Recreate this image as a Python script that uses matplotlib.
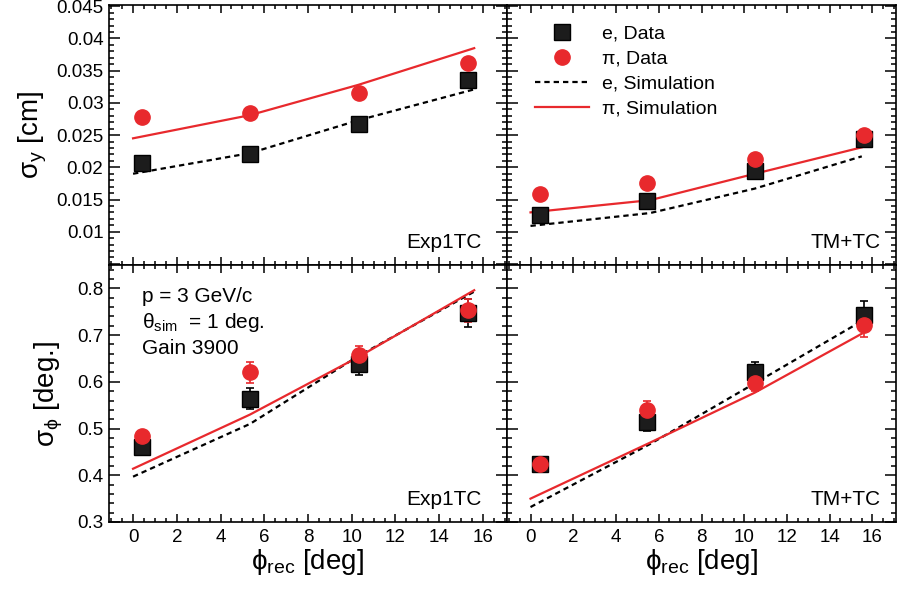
import numpy as np
import matplotlib.pyplot as plt
from matplotlib.ticker import MultipleLocator
from matplotlib.lines import Line2D

plt.rcParams['font.family'] = ['Liberation Sans', 'DejaVu Sans']
plt.rcParams['mathtext.default'] = 'regular'

RED = '#e8292d'
DARK = '#1c1c1c'

# data points (phi_rec in deg)
x_left = [0.4, 5.35, 10.33, 15.3]
x_right = [0.43, 5.46, 10.5, 15.6]

# sigma_y [cm]
sy_e_exp = [0.0207, 0.0221, 0.0268, 0.0336]
sy_pi_exp = [0.0278, 0.0284, 0.0316, 0.0362]
sy_e_tm = [0.0126, 0.0147, 0.0195, 0.0244]
sy_pi_tm = [0.0159, 0.0175, 0.0213, 0.0250]

# sigma_phi [deg]
sp_e_exp = [0.460, 0.564, 0.639, 0.748]
sp_e_exp_err = [0.010, 0.022, 0.024, 0.030]
sp_pi_exp = [0.483, 0.620, 0.658, 0.753]
sp_pi_exp_err = [0.008, 0.023, 0.019, 0.024]
sp_e_tm = [0.4245, 0.515, 0.622, 0.744]
sp_e_tm_err = [0.008, 0.020, 0.021, 0.030]
sp_pi_tm = [0.424, 0.540, 0.597, 0.7215]
sp_pi_tm_err = [0.008, 0.018, 0.017, 0.025]

# simulation curves
xs_left = [0.0, 5.35, 10.3, 15.6]
xs_right = [0.0, 5.6, 10.5, 15.5]
sim_sy_e_exp = [0.0190, 0.0222, 0.0273, 0.0321]
sim_sy_pi_exp = [0.0245, 0.0281, 0.0328, 0.0385]
sim_sy_e_tm = [0.0109, 0.0129, 0.0167, 0.0217]
sim_sy_pi_tm = [0.0130, 0.0149, 0.0190, 0.0231]
sim_sp_e_exp = [0.397, 0.510, 0.655, 0.793]
sim_sp_pi_exp = [0.414, 0.530, 0.653, 0.796]
sim_sp_e_tm = [0.332, 0.467, 0.597, 0.730]
sim_sp_pi_tm = [0.350, 0.470, 0.577, 0.703]

fig = plt.figure(figsize=(8.98, 5.90), dpi=100)
L, M, R = 109 / 898, 507 / 898, 896 / 898
T, H, B = 1 - 5 / 590, 1 - 265 / 590, 1 - 522 / 590
ax_tl = fig.add_axes([L, H, M - L, T - H])
ax_tr = fig.add_axes([M, H, R - M, T - H])
ax_bl = fig.add_axes([L, B, M - L, H - B])
ax_br = fig.add_axes([M, B, R - M, H - B])


def style(ax, top):
    ax.set_xlim(-1.1, 17.1)
    ax.xaxis.set_major_locator(MultipleLocator(2))
    ax.xaxis.set_minor_locator(MultipleLocator(0.5))
    if top:
        ax.set_ylim(0.00483, 0.0452)
        ax.yaxis.set_major_locator(MultipleLocator(0.005))
        ax.yaxis.set_minor_locator(MultipleLocator(0.001))
    else:
        ax.set_ylim(0.3, 0.85)
        ax.yaxis.set_major_locator(MultipleLocator(0.1))
        ax.yaxis.set_minor_locator(MultipleLocator(0.02))
    ax.tick_params(axis='both', which='both', direction='in', top=True, right=True,
                   labelsize=13.5, width=1.1, colors='black')
    ax.tick_params(axis='y', which='major', length=8, pad=4)
    ax.tick_params(axis='y', which='minor', length=3.6)
    ax.tick_params(axis='x', which='major', length=6, pad=5)
    ax.tick_params(axis='x', which='minor', length=2.8)
    for s in ax.spines.values():
        s.set_linewidth(1.2)


def draw(ax, x, e, pi, xs, sim_e, sim_pi, e_err=None, pi_err=None):
    ax.plot(xs, sim_e, ls=(0, (2.4, 1.8)), color='black', lw=1.6)
    ax.plot(xs, sim_pi, ls='-', color=RED, lw=1.6)
    ax.errorbar(x, e, yerr=e_err, fmt='s', color=DARK, mec='black', ms=11,
                ecolor='black', elinewidth=1.2, capsize=3, capthick=1.2)
    ax.errorbar(x, pi, yerr=pi_err, fmt='o', color=RED, mec=RED, ms=11,
                ecolor=RED, elinewidth=1.2, capsize=3, capthick=1.2)


for ax in (ax_tl, ax_tr):
    style(ax, True)
for ax in (ax_bl, ax_br):
    style(ax, False)

draw(ax_tl, x_left, sy_e_exp, sy_pi_exp, xs_left, sim_sy_e_exp, sim_sy_pi_exp)
draw(ax_tr, x_right, sy_e_tm, sy_pi_tm, xs_right, sim_sy_e_tm, sim_sy_pi_tm)
draw(ax_bl, x_left, sp_e_exp, sp_pi_exp, xs_left, sim_sp_e_exp, sim_sp_pi_exp,
     sp_e_exp_err, sp_pi_exp_err)
draw(ax_br, x_right, sp_e_tm, sp_pi_tm, xs_right, sim_sp_e_tm, sim_sp_pi_tm,
     sp_e_tm_err, sp_pi_tm_err)

ax_tl.yaxis.set_major_formatter(
    plt.FuncFormatter(lambda v, p: ('%.3f' % v).rstrip('0') if v > 0.0075 else ''))
ax_tl.tick_params(labelbottom=False)
ax_tr.tick_params(labelbottom=False, labelleft=False)
ax_br.tick_params(labelleft=False)
ax_bl.yaxis.set_major_formatter(plt.FuncFormatter(lambda v, p: '%.1f' % v))

for ax in (ax_bl, ax_br):
    ax.set_xlabel('ϕ$_{rec}$ [deg]', fontsize=20, labelpad=1)
ax_tl.set_ylabel('σ$_{y}$ [cm]', fontsize=20, labelpad=5)
ax_bl.set_ylabel('σ$_{ϕ}$ [deg.]', fontsize=20, labelpad=9)

for ax in (ax_tl, ax_bl):
    ax.text(0.935, 0.05, 'Exp1TC', transform=ax.transAxes, ha='right', va='bottom', fontsize=15)
for ax in (ax_tr, ax_br):
    ax.text(0.96, 0.05, 'TM+TC', transform=ax.transAxes, ha='right', va='bottom', fontsize=15)

ax_bl.text(0.083, 0.915, 'p = 3 GeV/c\nθ$_{sim}$  = 1 deg.\nGain 3900', transform=ax_bl.transAxes,
           ha='left', va='top', fontsize=15, linespacing=1.32)

handles = [
    Line2D([], [], marker='s', ls='none', color=DARK, mec='black', ms=11),
    Line2D([], [], marker='o', ls='none', color=RED, mec=RED, ms=11),
    Line2D([], [], ls=(0, (2.4, 1.8)), color='black', lw=1.6),
    Line2D([], [], ls='-', color=RED, lw=1.6),
]
labels = ['e, Data', 'π, Data', 'e, Simulation', 'π, Simulation']
ax_tr.legend(handles, labels, loc='upper left', bbox_to_anchor=(0.072, 0.922), frameon=False,
             fontsize=14, handlelength=2.8, handletextpad=0.65, labelspacing=0.38,
             borderpad=0, borderaxespad=0)

fig.savefig('out.png', dpi=100)
